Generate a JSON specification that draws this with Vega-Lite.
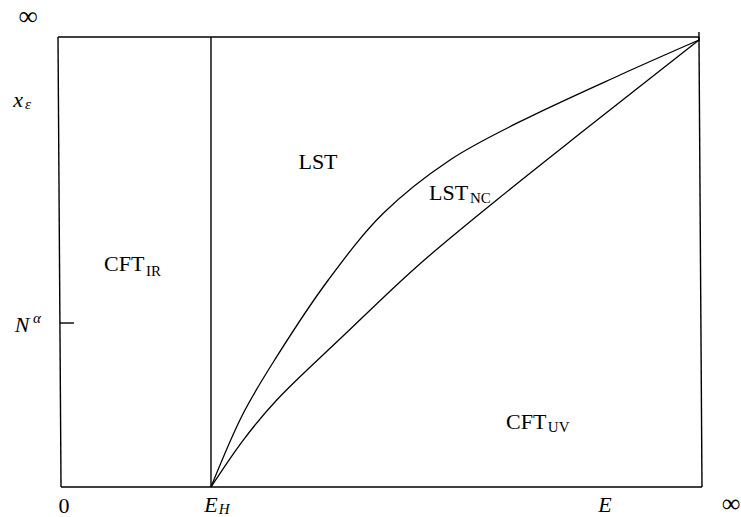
{
  "$schema": "https://vega.github.io/schema/vega-lite/v6.json",
  "width": 741,
  "height": 517,
  "padding": 0,
  "autosize": "none",
  "background": "white",
  "view": {"stroke": null},
  "datasets": {
    "edges": [
      {"edge": "left", "x": 0, "y": 100, "x2": 0.47, "y2": 0},
      {"edge": "top", "x": 0, "y": 100, "x2": 99.84, "y2": 100},
      {"edge": "right", "x": 99.84, "y": 100, "x2": 100.31, "y2": 0},
      {"edge": "bottom", "x": 0.47, "y": 0, "x2": 100.31, "y2": 0},
      {"edge": "EH", "x": 23.83, "y": 100, "x2": 23.83, "y2": 0},
      {"edge": "tickN", "x": 0.31, "y": 36.44, "x2": 2.49, "y2": 36.44},
      {"edge": "tickTop", "x": 99.84, "y": 101.1, "x2": 99.84, "y2": 99.0}
    ],
    "curves": [
      {"curve": "LST", "x": 23.83, "y": 0},
      {"curve": "LST", "x": 28.86, "y": 16.38},
      {"curve": "LST", "x": 34.07, "y": 28.96},
      {"curve": "LST", "x": 42.1, "y": 46.0},
      {"curve": "LST", "x": 50.67, "y": 60.82},
      {"curve": "LST", "x": 61.06, "y": 72.67},
      {"curve": "LST", "x": 71.96, "y": 81.18},
      {"curve": "LST", "x": 87.54, "y": 91.56},
      {"curve": "LST", "x": 99.84, "y": 99.33},
      {"curve": "NC", "x": 23.83, "y": 0},
      {"curve": "NC", "x": 28.86, "y": 10.44},
      {"curve": "NC", "x": 34.07, "y": 19.33},
      {"curve": "NC", "x": 44.44, "y": 33.6},
      {"curve": "NC", "x": 55.87, "y": 48.96},
      {"curve": "NC", "x": 68.33, "y": 63.78},
      {"curve": "NC", "x": 82.35, "y": 79.71},
      {"curve": "NC", "x": 99.84, "y": 99.33}
    ],
    "infinityTop": [
      {"label": "∞", "x": -4.67, "y": 104.44}
    ],
    "bottomRoman": [
      {"label": "∞", "x": 104.83, "y": -5.6, "size": "big"},
      {"label": "0", "x": 0.93, "y": -5.8, "size": "normal"}
    ],
    "bottomItalic": [
      {"label": "E", "x": 23.83, "y": -5.6},
      {"label": "E", "x": 85.2, "y": -5.6}
    ],
    "bottomSub": [
      {"label": "H", "x": 25.9, "y": -5.9}
    ],
    "romanCentered": [
      {"label": "LST", "x": 40.5, "y": 72.22}
    ],
    "romanLeft": [
      {"label": "CFT", "x": 7.17, "y": 49.56},
      {"label": "LST", "x": 57.79, "y": 65.33},
      {"label": "CFT", "x": 69.78, "y": 14.44}
    ],
    "romanSub": [
      {"label": "IR", "x": 13.7, "y": 48.0},
      {"label": "NC", "x": 64.17, "y": 64.22},
      {"label": "UV", "x": 76.3, "y": 13.33}
    ],
    "italicMain": [
      {"label": "x", "x": -6.23, "y": 86.0},
      {"label": "N", "x": -5.61, "y": 36.0}
    ],
    "italicSmall": [
      {"label": "ε", "x": -4.67, "y": 85.11},
      {"label": "α", "x": -3.27, "y": 37.56}
    ]
  },
  "encoding": {
    "x": {"field": "x", "type": "quantitative", "scale": {"domain": [-9.034, 106.386], "nice": false, "zero": false}, "axis": null},
    "y": {"field": "y", "type": "quantitative", "scale": {"domain": [-6.667, 108.222], "nice": false, "zero": false}, "axis": null}
  },
  "layer": [
    {
      "data": {"name": "edges"},
      "mark": {"type": "rule", "color": "black", "strokeWidth": 1.4},
      "encoding": {"x2": {"field": "x2"}, "y2": {"field": "y2"}}
    },
    {
      "data": {"name": "curves"},
      "mark": {"type": "line", "color": "black", "strokeWidth": 1.3, "interpolate": "catmull-rom"},
      "encoding": {"detail": {"field": "curve"}}
    },
    {
      "data": {"name": "infinityTop"},
      "mark": {"type": "text", "font": "Liberation Serif", "fontSize": 27, "align": "center", "baseline": "middle", "color": "black"},
      "encoding": {"text": {"field": "label"}}
    },
    {
      "data": {"name": "bottomRoman"},
      "mark": {"type": "text", "font": "Liberation Serif", "align": "center", "baseline": "alphabetic", "color": "black"},
      "encoding": {
        "text": {"field": "label"},
        "size": {"field": "size", "type": "nominal", "scale": {"domain": ["big", "normal"], "range": [26, 22]}, "legend": null}
      }
    },
    {
      "data": {"name": "bottomItalic"},
      "mark": {"type": "text", "font": "Liberation Serif", "fontStyle": "italic", "fontSize": 22, "align": "center", "baseline": "alphabetic", "color": "black"},
      "encoding": {"text": {"field": "label"}}
    },
    {
      "data": {"name": "bottomSub"},
      "mark": {"type": "text", "font": "Liberation Serif", "fontStyle": "italic", "fontSize": 15, "align": "center", "baseline": "alphabetic", "color": "black"},
      "encoding": {"text": {"field": "label"}}
    },
    {
      "data": {"name": "romanCentered"},
      "mark": {"type": "text", "font": "Liberation Serif", "fontSize": 22, "align": "center", "baseline": "middle", "color": "black"},
      "encoding": {"text": {"field": "label"}}
    },
    {
      "data": {"name": "romanLeft"},
      "mark": {"type": "text", "font": "Liberation Serif", "fontSize": 22, "align": "left", "baseline": "middle", "color": "black"},
      "encoding": {"text": {"field": "label"}}
    },
    {
      "data": {"name": "romanSub"},
      "mark": {"type": "text", "font": "Liberation Serif", "fontSize": 15, "align": "left", "baseline": "middle", "color": "black"},
      "encoding": {"text": {"field": "label"}}
    },
    {
      "data": {"name": "italicMain"},
      "mark": {"type": "text", "font": "Liberation Serif", "fontStyle": "italic", "fontSize": 22, "align": "center", "baseline": "middle", "color": "black"},
      "encoding": {"text": {"field": "label"}}
    },
    {
      "data": {"name": "italicSmall"},
      "mark": {"type": "text", "font": "Liberation Serif", "fontStyle": "italic", "fontSize": 15, "align": "center", "baseline": "middle", "color": "black"},
      "encoding": {"text": {"field": "label"}}
    }
  ]
}
